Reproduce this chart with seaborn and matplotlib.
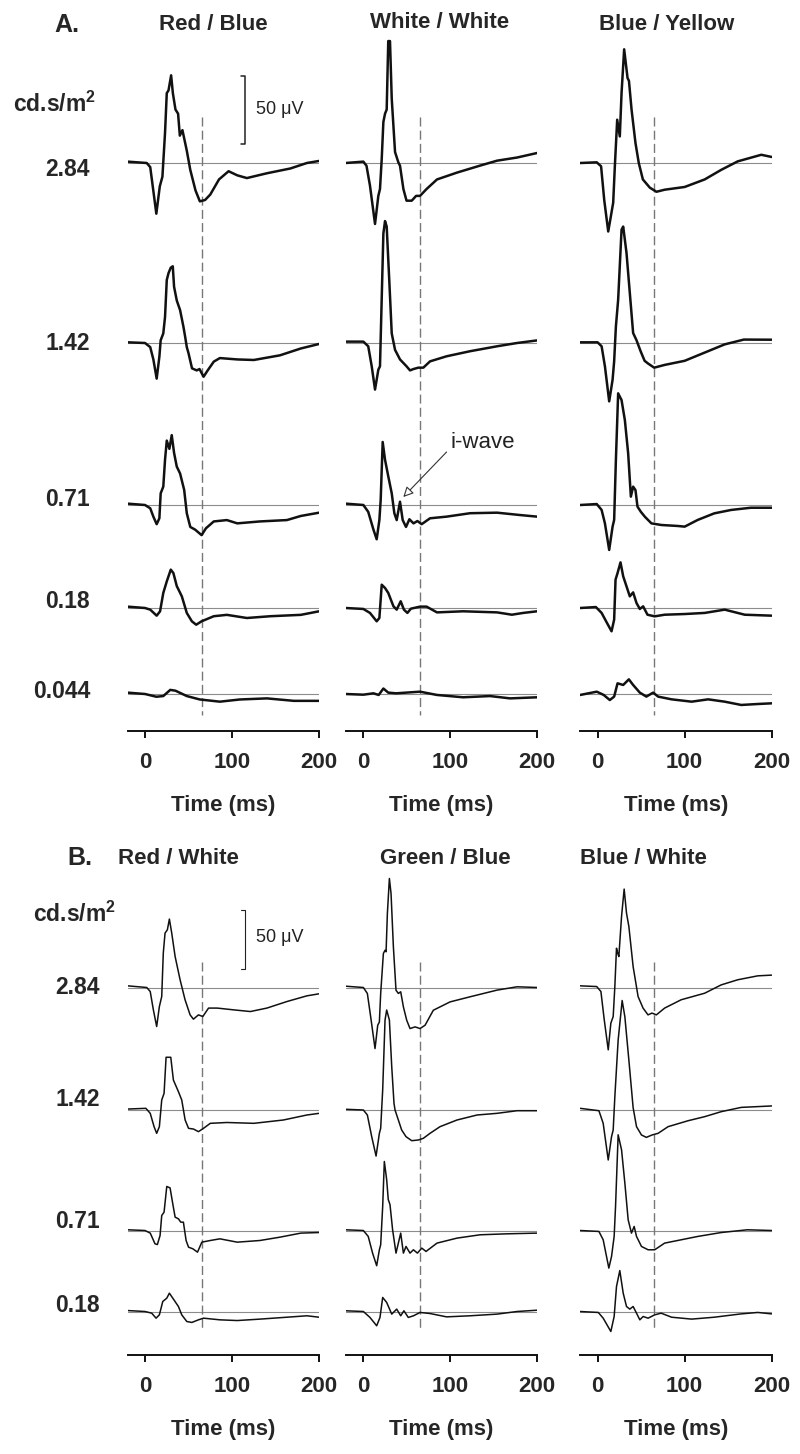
import numpy as np
import matplotlib
matplotlib.use("Agg")
import matplotlib.pyplot as plt
import seaborn as sns

sns.set_theme(style="white")
plt.rcParams["font.family"] = ["Liberation Sans", "DejaVu Sans"]
plt.rcParams["mathtext.fontset"] = "custom"
plt.rcParams["mathtext.rm"] = "Liberation Sans"
plt.rcParams["mathtext.bf"] = "Liberation Sans:bold"

# ---------------------------------------------------------------
# Labels
# ---------------------------------------------------------------
TIME_TICKS = [0, 100, 200]
A_TITLES = ["Red / Blue", "White / White", "Blue / Yellow"]
B_TITLES = ["Red / White", "Green / Blue", "Blue / White"]
A_LEVELS = ["2.84", "1.42", "0.71", "0.18", "0.044"]
B_LEVELS = ["2.84", "1.42", "0.71", "0.18"]
FLASH_MARK_MS = 65
SCALE_UV = 50

# ---------------------------------------------------------------
# Traces (time in ms, amplitude in uV)
# ---------------------------------------------------------------
# A / Red-Blue
RB_284_T = [-20, 2, 6, 13, 17, 20, 23, 25, 27, 30, 32, 35, 38, 40, 43, 48, 52, 58, 63, 69, 75, 85, 96, 106, 117, 140, 167, 186, 200]
RB_284_V = [1, 0, -3, -37, -17, -10, 22, 51, 53, 64, 51, 39, 36, 20, 24, 9, -5, -20, -28, -27, -23, -12, -6, -9, -11, -7.5, -4, 0, 1.5]
RB_142_T = [-20, 0, 6, 9.6, 13.4, 16.5, 18, 21, 23, 25, 27, 29.6, 31.9, 33.4, 36.5, 40.3, 44.1, 46, 48, 50, 54, 59.4, 62.6, 67.3, 72, 79, 86, 106, 125, 155, 179, 200]
RB_142_V = [0.5, 0, -3, -12, -26, -10, 2, 7, 19, 46, 51, 55, 56, 41, 31, 24, 12, 5, -3, -7.5, -18.5, -20, -19, -24.6, -20, -13.6, -11, -12, -12.4, -9, -4, -0.7]
RB_071_T = [-20, 0, 6, 9.6, 13.4, 16.5, 18, 21, 23, 25, 28, 30.7, 33.4, 36.5, 40.3, 45, 48, 52, 57.6, 65, 70, 79, 94, 106, 132, 163, 179, 200]
RB_071_V = [1, 0, -2.4, -8.5, -14, -9.7, 8.5, 13.4, 33, 47, 41, 51, 38, 28, 23, 11, -6, -16, -18, -22, -17, -12, -11, -13.4, -12, -11, -8, -5.6]
RB_018_T = [-20, 0, 6, 13.4, 17.3, 21, 25, 29.6, 32.6, 36.5, 42.3, 48, 53.8, 58.8, 65, 79, 94, 117, 144, 179, 200]
RB_018_V = [1, 0, -1.2, -5.6, -2.4, 11, 19.4, 28, 25.5, 16, 8.5, -3.6, -9.7, -12.2, -9.7, -6, -5, -7.3, -6, -5, -2.4]
RB_0044_T = [-20, 0, 13, 21, 29, 35, 48, 63, 86, 109, 140, 171, 200]
RB_0044_V = [1, 0, -2, -1.5, 3, 2.4, -1.5, -4, -5.6, -4, -3.2, -5, -5]

# A / White-White
WW_284_T = [-20, 0.4, 4, 8, 13.8, 17.6, 19.5, 21.5, 23.4, 25.3, 27.2, 29, 31, 33, 36.8, 40.6, 42.5, 46.4, 50, 56, 61, 65.5, 73, 85, 108, 134, 154, 177, 200]
WW_284_V = [0, 1, -2, -16.5, -44.5, -24, -19, 3, 30, 36, 39, 89, 89, 47, 8, 0.5, -2, -19, -27.5, -27.5, -24, -24, -19, -12, -7, -2, 1.7, 4, 7.3]
WW_142_T = [-20, 0.4, 6, 10, 13.8, 17.6, 19.5, 23.4, 25.3, 27.2, 30.3, 33, 36.8, 42.5, 50, 54, 58, 63.6, 69.3, 77, 96, 123, 154, 177, 200]
WW_142_V = [1, 1, -2.4, -17, -34, -19.5, -17, 80, 89, 85, 44, 7, -5, -12, -17, -20, -19, -18, -18, -13.4, -9.7, -6, -2.4, 0, 1.9]
WW_071_T = [-20, 0.4, 6, 12, 15.7, 18.8, 20.3, 22.6, 25.3, 29, 33, 36, 38.7, 42.5, 45.6, 49.4, 53.3, 58, 62.5, 67.4, 77, 96, 123, 154, 180, 200]
WW_071_V = [1, 0, -5, -18, -25, -11, 3.6, 46, 33, 21, 8.5, -6, -11, 2.4, -11, -16, -10.4, -13.4, -11.7, -14, -9.7, -8.5, -6, -5.6, -7.3, -8.5]
WW_018_T = [-20, 0.4, 8, 15.7, 18.8, 21.5, 25.3, 29, 35, 38.7, 43.3, 47, 51, 55, 65.5, 73, 85, 115, 154, 171, 184, 200]
WW_018_V = [0, -0.7, -3.6, -9.7, -7.3, 17, 14.6, 11, 1.2, -1.2, 4.9, -1.2, -3.6, -0.5, 1, 1, -3.2, -2.4, -3.2, -4.9, -3.6, -2.4]
WW_0044_T = [-20, 0.4, 12, 18, 23.4, 29, 38, 65.5, 85, 115, 146, 169, 200]
WW_0044_V = [0, -0.5, 0.5, -0.7, 4, 1, 0.5, 1.7, -0.7, -2.4, -1.5, -3.2, -2.4]

# A / Blue-Yellow
BY_284_T = [-20, -1, 4, 7.6, 12.2, 15.2, 17.9, 19.8, 22.5, 25.5, 27.5, 30.5, 34.4, 36, 39, 43.5, 47.3, 52, 60, 67.6, 77, 100, 123, 142, 161, 188, 200]
BY_284_V = [0, 0.5, -2.4, -27, -50, -39, -29, -2.4, 31.6, 19.4, 51, 83, 62, 60, 39, 14.6, 0, -12, -18, -21, -19.5, -17.5, -12, -5, 1.2, 6, 4.4]
BY_142_T = [-20, 0, 4.6, 8.4, 13.3, 17.2, 19, 21, 23.6, 27.5, 29.4, 33.2, 37, 40.8, 44.7, 49.4, 54, 58, 65, 77, 100, 123, 146, 168, 200]
BY_142_V = [0.5, 0.5, -2.4, -17, -42.6, -26.8, -13.4, 12, 31.6, 82.7, 85, 65.7, 36.5, 7.3, 2, -6, -13, -15, -18, -16, -13, -7, -1, 2.5, 2.4]
BY_071_T = [-20, -1, 4.6, 8.4, 13.3, 17.2, 19, 21, 23.6, 27.5, 31.3, 35.1, 38.2, 40.8, 43.5, 45.8, 49.6, 54.2, 61.8, 73.3, 92, 100, 115, 134, 153.5, 176, 200]
BY_071_V = [0, 0.7, -3.6, -13.4, -32.8, -15.8, -10.9, 32.8, 81.5, 76.6, 62, 37.7, 6.1, 13.4, 10.9, -1.2, -4.9, -8.5, -13.4, -14.6, -15.3, -15.8, -10.9, -6.1, -3.6, -2, -2]
BY_018_T = [-20, -2, 4.6, 10, 16, 19, 20.6, 22.9, 26.3, 29.4, 33.2, 37, 40.8, 44.7, 48.5, 52.3, 57.3, 65.5, 77, 100, 123, 146, 169, 200]
BY_018_V = [0, 0.7, -3.6, -10, -17, -8.5, 20.7, 25.5, 33.3, 23.1, 15.8, 8.5, 11.4, 3.6, -0.7, 1.2, -4.9, -6.1, -4.9, -4.4, -3.6, -1.2, -4.9, -5.6]
BY_0044_T = [-20, -1, 7, 14, 19, 22.9, 29.4, 35.9, 40.8, 48.5, 56, 63.8, 69.5, 85, 108, 127, 146, 165, 184, 200]
BY_0044_V = [-0.7, 1.7, -0.7, -4.4, -1.9, 7.8, 6.6, 10.7, 6.6, 1, -1.9, 1, -1.9, -3.9, -5.6, -3.9, -5.6, -8, -7.3, -6.8]

# B / Red-White
RW_284_T = [-20, 2, 6, 9.6, 13.4, 16.5, 19.2, 21, 23, 25.7, 28, 30.7, 34.6, 40.3, 46, 51.8, 55.6, 61.4, 66.4, 73, 83, 102, 121, 140, 163, 186, 200]
RW_284_V = [1.4, 0, -3.4, -18.8, -32.8, -16, -7.6, 28.9, 45.7, 48.5, 57.5, 45.7, 26, 6.5, -10.3, -23, -26.6, -23, -24.4, -17.3, -17.3, -18.8, -20.2, -17.3, -11.8, -7, -5.3]
RW_142_T = [-20, 1, 6, 10.4, 13.4, 16.5, 19.2, 21.9, 24.2, 29.6, 32.6, 38.4, 42.2, 46.1, 50, 55.7, 61.4, 67.2, 75, 94, 125, 159, 186, 200]
RW_142_V = [0.8, 1.4, -2.8, -14, -19.6, -14, 8.4, 14, 44.3, 44.3, 25.2, 15.4, 8.4, -8.4, -15.4, -16, -18.2, -15.4, -11.2, -10.5, -11.2, -8.4, -4.2, -2.8]
RW_071_T = [-20, 0, 6, 11.5, 14.2, 17.3, 19.2, 21.9, 25, 28.8, 31.9, 34.6, 38.4, 41.1, 44.1, 47.2, 50, 55, 60.3, 65.3, 75, 86, 106, 132, 155, 179, 200]
RW_071_V = [0.6, 0, -2.2, -11.2, -11.8, -4.2, 12.6, 15.4, 37, 35.8, 22.4, 11.2, 9.8, 7, 7, -8.4, -14, -15.4, -18.2, -9.8, -8.4, -7, -9.8, -8.4, -5.6, -2.2, -1.7]
RW_018_T = [-20, 0, 7.7, 12.7, 16.5, 20.4, 25, 28, 31.9, 38.4, 42.2, 48, 53.8, 61.4, 67.2, 86, 106, 132, 163, 186, 200]
RW_018_V = [0.8, 0, -1.4, -5.6, -2.8, 8.4, 11.2, 15.4, 11.2, 4.2, -2.8, -8.4, -9.2, -7, -5.6, -7, -7.6, -6.4, -4.8, -3.6, -4.8]

# B / Green-Blue
GB_284_T = [-20, 0.4, 5, 8.8, 13.8, 16.9, 18.8, 20.3, 23.4, 25.3, 26.5, 28, 30.3, 32.2, 34.9, 37.9, 40.6, 43.3, 46.4, 50.2, 54, 59.8, 65.5, 71.3, 80.8, 100, 123, 154, 177, 200]
GB_284_V = [1.1, 0, -5, -24.6, -51.3, -31.7, -29, -5, 28.6, 31.3, 30, 62.2, 91.6, 79, 34.1, -2.3, -5, -3.6, -16.3, -27.5, -34.5, -33.1, -34.5, -31.7, -19.1, -12.1, -7.8, -2.2, 0.6, 0]
GB_142_T = [-20, 0.4, 5, 10, 15, 18.8, 20.3, 22.6, 25.3, 27.2, 30.3, 33, 35.6, 36.8, 40.6, 44.4, 49.4, 56, 63.6, 69.3, 77, 88.5, 108, 131, 154, 177, 200]
GB_142_V = [0.6, 0, -4.2, -22.4, -38.7, -19.6, -15.4, 16.8, 75.6, 84, 75.6, 36.4, 5.6, 0, -8.4, -16.8, -22.4, -25.8, -25.2, -23.8, -19.6, -14, -8.4, -4.2, -2.8, -0.6, -0.6]
GB_071_T = [-20, 0.4, 6, 11, 15.7, 18.8, 20.3, 22.6, 24.5, 27.2, 29, 31, 34, 37.9, 40.6, 43.3, 46.4, 49.4, 54, 57.9, 62.5, 67.5, 72.4, 85, 108, 134.5, 165, 200]
GB_071_V = [0.6, 0, -5, -19, -29.6, -16.2, -12, 20.2, 58, 42.6, 26, 21.8, 0.6, -19, -10.6, -2.2, -19, -13.4, -19, -16.2, -19, -14.8, -17.6, -10.6, -6.4, -3.6, -2.8, -2.2]
GB_018_T = [-20, 0.4, 8, 15.7, 19.5, 22.6, 27.2, 33, 38.7, 43.3, 47, 52, 58, 65.5, 77, 96, 123, 154, 177, 200]
GB_018_V = [0.6, 0, -5, -12, -5, 11.8, 7.6, -2.2, 2, -3.6, 0.6, -5, -3.6, -0.8, -1.7, -4.5, -3.6, -2.2, 0, 1.1]

# B / Blue-White
BW_284_T = [-20, -1, 3.8, 7.6, 12.2, 15.2, 17.9, 19.8, 21.7, 23, 24.4, 27.5, 30.5, 33.2, 35.9, 40.8, 46.5, 52.2, 57.9, 62.5, 67.5, 77, 96, 123, 142, 161, 184, 200]
BW_284_V = [1.4, 0.8, -3.4, -27, -52.4, -30, -24.4, 0.8, 33, 29, 26, 59.7, 82.7, 62.5, 51.3, 17.6, -7.6, -17.3, -23, -21.5, -23, -17.3, -10.3, -4.8, 2.2, 6.5, 9.8, 10.4]
BW_142_T = [-20, 1.5, 6.4, 12.2, 16, 17.9, 19.8, 23.6, 28.2, 31.3, 35.9, 40.8, 42.5, 44.7, 50.4, 56, 62.5, 69.5, 81, 104, 123, 142, 165, 200]
BW_142_V = [1.4, -0.6, -11.2, -42, -22.4, -16.8, 11.2, 58.8, 92, 78.4, 42, 2, -5, -14, -21, -23, -21, -19.6, -14, -9, -5.6, -1.4, 2.2, 3.4]
BW_071_T = [-20, 1.5, 6.4, 12.9, 16, 19, 20.6, 23.6, 27.5, 31.3, 35.1, 38.9, 42, 44.7, 50.4, 58, 65.6, 77, 96, 115, 142, 172, 200]
BW_071_V = [0, -0.8, -7.8, -31.6, -21.8, -5, 20.2, 80.4, 67.8, 39.8, 9, -2.2, 3.4, -5, -13.4, -16.2, -16.2, -10.6, -7.8, -5, -1.7, 0.6, 0]
BW_018_T = [-20, 0.8, 6.4, 15.2, 19, 21.7, 25.5, 29.4, 33.2, 37, 40.8, 44.7, 48.5, 52.3, 58, 65.6, 73, 85, 108, 134, 165, 184, 200]
BW_018_V = [0, -0.8, -5.6, -16.8, -4.2, 21, 34.4, 15.4, 4.2, 2, 4.2, -1.4, -7, -4.2, -5.6, -2.8, -1.4, -4.8, -6.4, -4.8, -2, -0.8, -2]

PANEL_A = [
    [(RB_284_T, RB_284_V), (RB_142_T, RB_142_V), (RB_071_T, RB_071_V), (RB_018_T, RB_018_V), (RB_0044_T, RB_0044_V)],
    [(WW_284_T, WW_284_V), (WW_142_T, WW_142_V), (WW_071_T, WW_071_V), (WW_018_T, WW_018_V), (WW_0044_T, WW_0044_V)],
    [(BY_284_T, BY_284_V), (BY_142_T, BY_142_V), (BY_071_T, BY_071_V), (BY_018_T, BY_018_V), (BY_0044_T, BY_0044_V)],
]
PANEL_B = [
    [(RW_284_T, RW_284_V), (RW_142_T, RW_142_V), (RW_071_T, RW_071_V), (RW_018_T, RW_018_V)],
    [(GB_284_T, GB_284_V), (GB_142_T, GB_142_V), (GB_071_T, GB_071_V), (GB_018_T, GB_018_V)],
    [(BW_284_T, BW_284_V), (BW_142_T, BW_142_V), (BW_071_T, BW_071_V), (BW_018_T, BW_018_V)],
]

# ---------------------------------------------------------------
# Layout (pixels on an 800 x 1454 canvas)
# ---------------------------------------------------------------
W, H = 800, 1454
COL_LEFT = [127.6, 345.6, 580.2]
COL_WIDTH = 191.5

fig = plt.figure(figsize=(W / 100, H / 100), dpi=100)
fig.patch.set_facecolor("white")


def px_axes(left, top, width, bottom):
    return fig.add_axes([left / W, 1 - bottom / H, width / W, (bottom - top) / H])


def fig_text(x, y, s, **kw):
    fig.text(x / W, 1 - y / H, s, **kw)


def draw_panel(traces, baselines_px, top, bottom, px_per_uv, lw, dash_px):
    axes = []
    for c, col in enumerate(traces):
        ax = px_axes(COL_LEFT[c], top, COL_WIDTH, bottom)
        ax.set_facecolor("none")
        for (t, v), base in zip(col, baselines_px):
            off = (bottom - base) / px_per_uv
            ax.axhline(off, color="#8c8c8c", lw=0.8, zorder=1)
            sns.lineplot(x=t, y=np.asarray(v, dtype=float) + off, ax=ax, color="#111111",
                         linewidth=lw, estimator=None, sort=False, zorder=3)
        d0, d1 = [(bottom - p) / px_per_uv for p in dash_px]
        ax.plot([FLASH_MARK_MS, FLASH_MARK_MS], [d0, d1], color="#777777", lw=1.0,
                dashes=(6.5, 3), zorder=2)
        ax.set_xlim(-20, 200)
        ax.set_ylim(0, (bottom - top) / px_per_uv)
        for s in ["left", "top", "right"]:
            ax.spines[s].set_visible(False)
        ax.spines["bottom"].set_color("#111111")
        ax.spines["bottom"].set_linewidth(1.4)
        ax.set_yticks([])
        ax.set_ylabel("")
        ax.set_xticks(TIME_TICKS)
        ax.set_xticklabels([str(t) for t in TIME_TICKS], fontsize=16, fontweight="bold")
        ax.tick_params(axis="x", bottom=True, direction="out", length=5, width=1.4,
                       color="#111111", pad=10)
        ax.set_xlabel("Time (ms)", fontsize=16, fontweight="bold", labelpad=16)
        axes.append(ax)
    return axes


A_TOP, A_BOTTOM, A_SCALE = 30, 731, 1.37
B_TOP, B_BOTTOM, B_SCALE = 850, 1355, 1.19
axes_a = draw_panel(PANEL_A, [163, 343, 505, 608, 694], A_TOP, A_BOTTOM, A_SCALE, 1.8, (117, 715))
axes_b = draw_panel(PANEL_B, [987.5, 1110, 1230.5, 1311.5], B_TOP, B_BOTTOM, B_SCALE, 1.1, (962, 1330))

# scale bars
for ax, bottom, bar_px, text_px, scale, lw in [
    (axes_a[0], A_BOTTOM, 144, 110, A_SCALE, 1.1),
    (axes_b[0], B_BOTTOM, 969, 938, B_SCALE, 0.8),
]:
    y0 = (bottom - bar_px) / scale
    ax.plot([110, 115, 115, 110], [y0, y0, y0 + SCALE_UV, y0 + SCALE_UV],
            color="#222222", lw=lw, clip_on=False)
    ax.text(127, (bottom - text_px) / scale, f"{SCALE_UV} \u03bcV", fontsize=13,
            ha="left", va="center", color="#222222")

# i-wave annotation
ax_ww = axes_a[1]
ax_ww.annotate("", xy=(46.3, (A_BOTTOM - 497) / A_SCALE),
               xytext=(96, (A_BOTTOM - 452) / A_SCALE),
               arrowprops=dict(arrowstyle="-|>", fc="white", ec="#333333", lw=0.8,
                               mutation_scale=15, shrinkA=0, shrinkB=0))
ax_ww.text(100, (A_BOTTOM - 442) / A_SCALE, "i-wave", fontsize=16, ha="left",
           va="center", color="#222222")

# titles and labels
fig_text(67, 25, "A.", fontsize=18, fontweight="bold", ha="center", va="center")
fig_text(80, 858, "B.", fontsize=18, fontweight="bold", ha="center", va="center")
for x, y, s in zip([213, 440, 667], [25, 23, 25], A_TITLES):
    fig_text(x, y, s, fontsize=16, fontweight="bold", ha="center", va="center")
for x, s in zip([178, 445, 643], B_TITLES):
    fig_text(x, 858, s, fontsize=16, fontweight="bold", ha="center", va="center")

unit_label = r"cd.s/m$^{\mathbf{2}}$"
fig_text(13, 104, unit_label, fontsize=16.5, fontweight="bold", ha="left", va="center")
fig_text(33, 914, unit_label, fontsize=16.5, fontweight="bold", ha="left", va="center")
for y, s in zip([170, 343, 500, 601, 691], A_LEVELS):
    fig_text(90, y, s, fontsize=16.5, fontweight="bold", ha="right", va="center")
for y, s in zip([987, 1100, 1222, 1305], B_LEVELS):
    fig_text(100, y, s, fontsize=16.5, fontweight="bold", ha="right", va="center")

fig.savefig("out.png", dpi=100)
plt.close(fig)
